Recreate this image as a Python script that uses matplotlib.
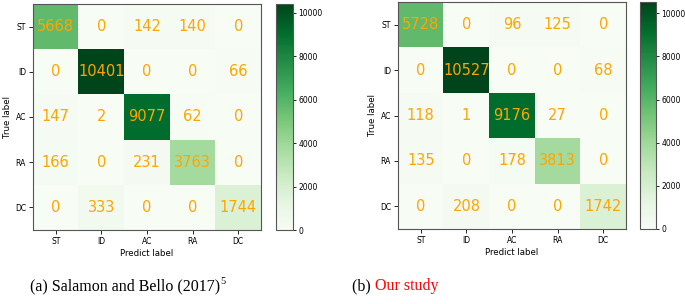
import numpy as np
import matplotlib.pyplot as plt

labels = ["ST", "ID", "AC", "RA", "DC"]

cm_salamon = np.array([
    [5668, 0, 142, 140, 0],
    [0, 10401, 0, 0, 66],
    [147, 2, 9077, 62, 0],
    [166, 0, 231, 3763, 0],
    [0, 333, 0, 0, 1744],
])

cm_ours = np.array([
    [5728, 0, 96, 125, 0],
    [0, 10527, 0, 0, 68],
    [118, 1, 9176, 27, 0],
    [135, 0, 178, 3813, 0],
    [0, 208, 0, 0, 1742],
])

fig = plt.figure(figsize=(6.85, 3.04), dpi=100)


def draw_cm(cm, ax_rect, cax_rect):
    ax = fig.add_axes(ax_rect)
    cax = fig.add_axes(cax_rect)
    im = ax.imshow(cm, cmap="Greens", vmin=0, vmax=cm.max(), aspect="auto")
    for i in range(cm.shape[0]):
        for j in range(cm.shape[1]):
            ax.text(j, i, str(cm[i, j]), ha="center", va="center",
                    color="orange", fontsize=10.5)
    ax.set_xticks(range(len(labels)))
    ax.set_yticks(range(len(labels)))
    ax.set_xticklabels(labels, fontsize=5.5)
    ax.set_yticklabels(labels, fontsize=5.5)
    ax.tick_params(length=3, width=0.6, pad=2)
    ax.set_xlabel("Predict label", fontsize=6.2, labelpad=2)
    ax.set_ylabel("True label", fontsize=6.2, labelpad=2)
    for s in ax.spines.values():
        s.set_color("#555555")
    cb = fig.colorbar(im, cax=cax)
    cb.set_ticks([0, 2000, 4000, 6000, 8000, 10000])
    cb.ax.tick_params(labelsize=5.5, length=2.5, width=0.6, pad=1.5)
    cb.outline.set_edgecolor("#555555")
    return ax


W, H = 685.0, 304.0
draw_cm(cm_salamon, [33 / W, 1 - 230 / H, 228 / W, 226 / H],
        [276 / W, 1 - 230 / H, 17 / W, 226 / H])
draw_cm(cm_ours, [398 / W, 1 - 229 / H, 228 / W, 227 / H],
        [640 / W, 1 - 229 / H, 16 / W, 227 / H])

cap_font = dict(family="Liberation Serif", fontsize=11.5)
base = 1 - 290 / H
fig.canvas.draw()
ta = fig.text(30 / W, base, "(a) Salamon and Bello (2017)",
              ha="left", va="baseline", **cap_font)
bb = ta.get_window_extent()
fig.text(bb.x1 / W, base + 6 / H, "5", ha="left", va="baseline",
         family="Liberation Serif", fontsize=7.5)
tb = fig.text(352 / W, base, "(b) ", ha="left", va="baseline", **cap_font)
bb = tb.get_window_extent()
fig.text(bb.x1 / W, base, "Our study", color="red",
         ha="left", va="baseline", **cap_font)

fig.savefig("out.png", dpi=100)
